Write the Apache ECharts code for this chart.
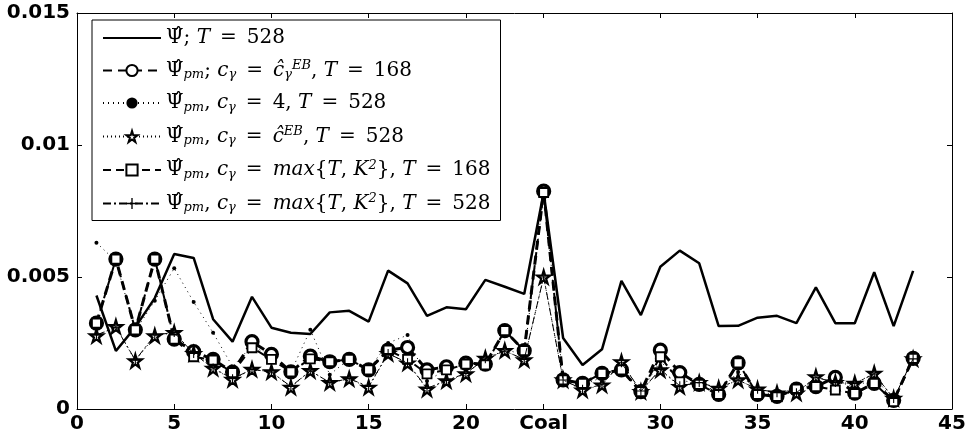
<!DOCTYPE html>
<html>
<head>
<meta charset="utf-8">
<script src="https://cdn.jsdelivr.net/npm/echarts@6/dist/echarts.min.js"></script>
<style>
  html, body { margin: 0; padding: 0; background: #fff; }
  #chart { width: 969px; height: 437px; }
</style>
</head>
<body>
<div id="chart"></div>
<script>
// x positions 1..43, the 24th is the "Coal" portfolio
const xs = [1,2,3,4,5,6,7,8,9,10,11,12,13,14,15,16,17,18,19,20,21,22,23,24,25,26,27,28,29,30,31,32,33,34,35,36,37,38,39,40,41,42,43];
const xTicks = [0, 5, 10, 15, 20, 24, 30, 35, 40, 45];
const yTicks = [0, 0.005, 0.01, 0.015];

// values in units of 1e-3
const psiT528 = [4.3,2.2,3.1,4.2,5.87,5.72,3.4,2.55,4.25,3.08,2.89,2.84,3.66,3.72,3.31,5.24,4.76,3.53,3.85,3.78,4.89,4.63,4.36,8.2,2.69,1.67,2.26,4.85,3.56,5.39,6.0,5.52,3.14,3.15,3.46,3.53,3.25,4.61,3.25,3.25,5.18,3.14,5.23];
const pmEB168 = [3.25,5.68,3.0,5.68,2.65,2.17,1.88,1.4,2.55,2.07,1.41,2.0,1.79,1.88,1.48,2.23,2.33,1.48,1.6,1.74,1.7,2.97,2.21,8.25,1.1,0.97,1.35,1.48,0.66,2.23,1.38,0.93,0.55,1.75,0.55,0.48,0.75,0.85,1.2,0.6,0.97,0.33,1.92];
const pmC4 = [6.3,5.6,2.95,4.1,5.33,4.05,2.89,1.6,2.4,2.0,1.4,3.0,1.3,1.9,1.5,2.5,2.8,1.06,1.5,1.7,1.75,2.3,2.0,8.2,1.1,0.9,1.2,1.6,0.66,1.8,1.1,0.95,0.65,1.4,0.65,0.55,0.7,1.0,1.1,0.8,1.2,0.35,1.9];
const pmEB528 = [2.77,3.12,1.82,2.77,2.89,2.1,1.54,1.12,1.5,1.41,0.82,1.45,1.0,1.14,0.82,2.1,1.74,0.75,1.07,1.33,1.92,2.21,1.86,5.0,1.1,0.72,0.91,1.79,0.66,1.48,0.85,1.0,0.78,1.1,0.75,0.6,0.6,1.22,1.0,0.97,1.35,0.4,1.9];
const pmMax168 = [3.25,5.68,3.0,5.68,2.65,1.98,1.85,1.38,2.32,1.88,1.41,1.9,1.79,1.88,1.48,2.23,1.88,1.33,1.48,1.7,1.67,2.97,2.21,8.2,1.1,0.97,1.35,1.48,0.66,1.98,1.03,0.93,0.55,1.75,0.55,0.48,0.75,0.85,0.72,0.58,0.97,0.28,1.92];
const pmMax528 = [2.8,3.1,1.85,2.8,2.9,2.1,1.55,1.15,1.5,1.4,0.85,1.45,1.0,1.15,0.85,2.1,1.75,0.78,1.08,1.35,1.9,2.2,1.88,5.0,1.1,0.75,0.92,1.75,0.68,1.5,0.88,1.0,0.8,1.1,0.75,0.62,0.62,1.2,1.0,0.97,1.33,0.4,1.9];

const EQ = "\u2002=\u2002";
const PSI = "{n|Ψ\u0302}";
const legendText = {
  s1: PSI + "{n|; }{i|T}{n|" + EQ + "528}",
  s2: PSI + "{sb|pm}{n|; }{i|c}{sb|γ}{n|" + EQ + "}{i|ĉ}{sb|γ}{sp|EB}{n|, }{i|T}{n|" + EQ + "168}",
  s3: PSI + "{sb|pm}{n|, }{i|c}{sb|γ}{n|" + EQ + "4, }{i|T}{n|" + EQ + "528}",
  s4: PSI + "{sb|pm}{n|, }{i|c}{sb|γ}{n|" + EQ + "}{i|ĉ}{sp|EB}{n|, }{i|T}{n|" + EQ + "528}",
  s5: PSI + "{sb|pm}{n|, }{i|c}{sb|γ}{n|" + EQ + "}{i|max}{n|{}{i|T}{n|, }{i|K}{sp|2}}{n|, }{i|T}{n|" + EQ + "168}",
  s6: PSI + "{sb|pm}{n|, }{i|c}{sb|γ}{n|" + EQ + "}{i|max}{n|{}{i|T}{n|, }{i|K}{sp|2}}{n|, }{i|T}{n|" + EQ + "528}"
};

const starPath = "path://M50,0 L61,35 L98,35 L68,57 L79,91 L50,70 L21,91 L32,57 L2,35 L39,35 Z";
const plusPath = "path://M44,0 H56 V44 H100 V56 H56 V100 H44 V56 H0 V44 H44 Z";

function pts(vals) {
  return xs.map((x, i) => [x, vals[i] / 1000]);
}

const serif = "'DejaVu Serif', 'Liberation Serif', serif";
const labelFont = { fontFamily: "'DejaVu Sans', sans-serif", fontWeight: "bold", fontSize: 20, color: "#000" };
const axisLine = { show: true, onZero: false, lineStyle: { color: "#000", width: 1 } };

const chart = echarts.init(document.getElementById("chart"), null, { renderer: "canvas" });

const option = {
  animation: false,
  backgroundColor: "#fff",
  grid: { left: 77, right: 17, top: 13, bottom: 28 },
  legend: {
    orient: "vertical",
    left: 92,
    top: 20,
    padding: [8, 10, 6, 10],
    itemGap: 11.5,
    itemWidth: 58,
    itemHeight: 14,
    backgroundColor: "#fff",
    borderColor: "#000",
    borderWidth: 1,
    z: 10,
    data: [
      { name: "s1", itemStyle: { color: "rgba(0,0,0,0)", borderWidth: 0 } },
      "s2", "s3", "s4", "s5", "s6"
    ],
    formatter: (name) => legendText[name],
    textStyle: {
      fontFamily: serif, fontSize: 20, color: "#000",
      rich: {
        n: { fontFamily: serif, fontSize: 20, lineHeight: 22, color: "#000" },
        i: { fontFamily: serif, fontStyle: "italic", fontSize: 20, lineHeight: 22, color: "#000" },
        sb: { fontFamily: serif, fontStyle: "italic", fontSize: 13, lineHeight: 13, verticalAlign: "bottom", color: "#000" },
        sp: { fontFamily: serif, fontStyle: "italic", fontSize: 13, lineHeight: 13, verticalAlign: "top", color: "#000" }
      }
    }
  },
  xAxis: [
    {
      type: "value", min: 0, max: 45,
      axisLine: axisLine,
      axisTick: { show: true, inside: true, length: 5, customValues: xTicks, lineStyle: { color: "#000" } },
      axisLabel: {
        customValues: xTicks, margin: 5, ...labelFont,
        formatter: (v) => (v === 24 ? "Coal" : String(v))
      },
      splitLine: { show: false }
    },
    {
      type: "value", min: 0, max: 45, position: "top",
      axisLine: axisLine,
      axisTick: { show: true, inside: true, length: 5, customValues: xTicks, lineStyle: { color: "#000" } },
      axisLabel: { show: false },
      splitLine: { show: false }
    }
  ],
  yAxis: [
    {
      type: "value", min: 0, max: 0.015, interval: 0.005,
      axisLine: axisLine,
      axisTick: { show: true, inside: true, length: 5, customValues: yTicks, lineStyle: { color: "#000" } },
      axisLabel: {
        customValues: yTicks, margin: 7, ...labelFont,
        formatter: (v) => (v === 0 ? "0" : String(+v.toFixed(3)))
      },
      splitLine: { show: false }
    },
    {
      type: "value", min: 0, max: 0.015, interval: 0.005, position: "right",
      axisLine: axisLine,
      axisTick: { show: true, inside: true, length: 5, customValues: yTicks, lineStyle: { color: "#000" } },
      axisLabel: { show: false },
      splitLine: { show: false }
    }
  ],
  series: [
    {
      name: "s1", type: "line", data: pts(psiT528), symbol: "none",
      lineStyle: { color: "#000", width: 2.5, type: "solid" },
      itemStyle: { color: "#000" }, z: 2
    },
    {
      name: "s2", type: "line", data: pts(pmEB168), symbol: "circle", symbolSize: 12,
      lineStyle: { color: "#000", width: 3, type: [9, 6] },
      itemStyle: { color: "#fff", borderColor: "#000", borderWidth: 3.2 }, z: 3
    },
    {
      name: "s3", type: "line", data: pts(pmC4), symbol: "circle", symbolSize: 4,
      lineStyle: { color: "#000", width: 1, type: [1, 4] },
      itemStyle: { color: "#000" }, z: 4
    },
    {
      name: "s4", type: "line", data: pts(pmEB528), symbol: starPath, symbolSize: 13,
      lineStyle: { color: "#000", width: 1, type: [1, 3] },
      itemStyle: { color: "#fff", borderColor: "#000", borderWidth: 2.2 }, z: 5
    },
    {
      name: "s5", type: "line", data: pts(pmMax168), symbol: "rect", symbolSize: 9,
      lineStyle: { color: "#000", width: 2, type: [8, 5] },
      itemStyle: { color: "#fff", borderColor: "#000", borderWidth: 1.8 }, z: 6
    },
    {
      name: "s6", type: "line", data: pts(pmMax528), symbol: plusPath, symbolSize: 9,
      lineStyle: { color: "#000", width: 1, type: [8, 3, 2, 3] },
      itemStyle: { color: "#000" }, z: 7
    }
  ]
};

chart.setOption(option);
window.addEventListener("resize", chart.resize);
</script>
</body>
</html>
